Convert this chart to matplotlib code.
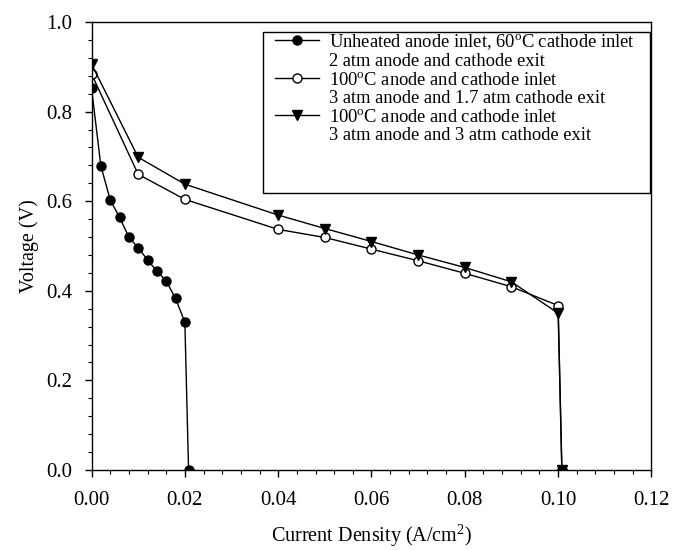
import matplotlib
matplotlib.use("Agg")
import matplotlib.pyplot as plt
from matplotlib.lines import Line2D
from matplotlib.patches import Rectangle
from matplotlib.ticker import MultipleLocator, FormatStrFormatter

plt.rcParams['font.family'] = ['Liberation Serif', 'DejaVu Serif']
plt.rcParams['mathtext.fontset'] = 'custom'
plt.rcParams['mathtext.rm'] = 'Liberation Serif'
plt.rcParams['mathtext.it'] = 'Liberation Serif:italic'
plt.rcParams['mathtext.bf'] = 'Liberation Serif:bold'

# Series 1: unheated anode inlet
x1 = [0.0, 0.002, 0.004, 0.006, 0.008, 0.010, 0.012, 0.014, 0.016, 0.018, 0.020, 0.0208]
y1 = [0.852, 0.679, 0.603, 0.564, 0.520, 0.496, 0.469, 0.444, 0.422, 0.383, 0.330, 0.0]

# Series 2: 100C, 3 atm anode / 1.7 atm cathode
x2 = [0.0, 0.01, 0.02, 0.04, 0.05, 0.06, 0.07, 0.08, 0.09, 0.10, 0.1008]
y2 = [0.884, 0.660, 0.604, 0.537, 0.519, 0.493, 0.467, 0.439, 0.409, 0.367, 0.0]

# Series 3: 100C, 3 atm anode / 3 atm cathode
x3 = [0.0, 0.01, 0.02, 0.04, 0.05, 0.06, 0.07, 0.08, 0.09, 0.10, 0.1008]
y3 = [0.906, 0.698, 0.638, 0.569, 0.539, 0.510, 0.480, 0.452, 0.420, 0.350, 0.0]

labels = [
    ("Unheated anode inlet, 60$^{\\rm o}$C cathode inlet", "2 atm anode and cathode exit"),
    ("100$^{\\rm o}$C anode and cathode inlet", "3 atm anode and 1.7 atm cathode exit"),
    ("100$^{\\rm o}$C anode and cathode inlet", "3 atm anode and 3 atm cathode exit"),
]

fig = plt.figure(figsize=(6.73, 5.5), dpi=100)
ax = fig.add_axes([0.136, 0.1455, 0.832, 0.8145])

ms = 6.5
l1, = ax.plot(x1, y1, '-o', color='black', lw=1.0, ms=ms, mfc='black', mec='black')
l2, = ax.plot(x2, y2, '-o', color='black', lw=1.0, ms=ms, mfc='white', mec='black')
l3, = ax.plot(x3, y3, '-v', color='black', lw=1.0, ms=ms, mfc='black', mec='black')
ax.plot(x2[-1:], y2[-1:], 'o', color='black', ms=ms, mfc='black')

ax.set_xlim(0, 0.12)
ax.set_ylim(0, 1.0)
ax.xaxis.set_major_locator(MultipleLocator(0.02))
ax.xaxis.set_minor_locator(MultipleLocator(0.004))
ax.yaxis.set_major_locator(MultipleLocator(0.2))
ax.yaxis.set_minor_locator(MultipleLocator(0.04))
ax.xaxis.set_major_formatter(FormatStrFormatter('%.2f'))
ax.yaxis.set_major_formatter(FormatStrFormatter('%.1f'))
ax.tick_params(which='both', direction='out', top=False, right=False, labelsize=15)
ax.tick_params(which='major', length=5, width=1)
ax.tick_params(which='minor', length=3, width=0.8)
ax.tick_params(axis='x', pad=10)
ax.tick_params(axis='y', pad=9)
for s in ax.spines.values():
    s.set_linewidth(1.0)

ax.set_xlabel("Current Density (A/cm$^2$)", fontsize=14.5, labelpad=9)
ax.set_ylabel("Voltage (V)", fontsize=14.5, labelpad=5)

blank = Line2D([], [], linestyle='none')
handles = [l1, blank, l2, blank, l3, blank]
labs = [labels[0][0], labels[0][1], labels[1][0], labels[1][1], labels[2][0], labels[2][1]]
leg = ax.legend(handles, labs, loc='upper left', bbox_to_anchor=(0.317, 0.99),
                fontsize=13.3, frameon=False,
                handlelength=2.4, handletextpad=0.55, labelspacing=0.08,
                borderpad=0.3, borderaxespad=0.0)
ax.add_patch(Rectangle((0.3065, 0.618), 0.69, 0.36, transform=ax.transAxes,
                       fill=False, edgecolor='black', lw=1.0, zorder=5))

fig.savefig("out.png", dpi=100)
